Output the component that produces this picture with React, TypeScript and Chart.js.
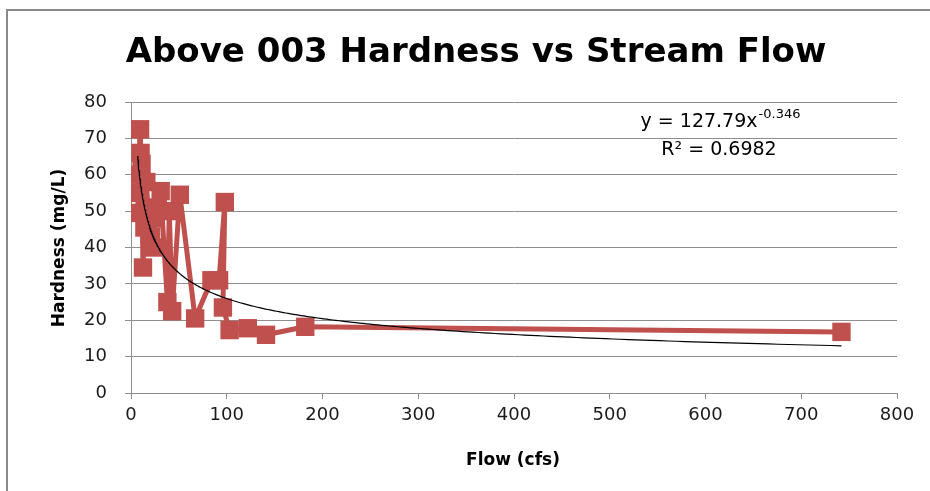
import React, { useEffect, useRef } from 'react';
import { Chart, registerables } from 'chart.js';

Chart.register(...registerables);

const TITLE = 'Above 003 Hardness vs Stream Flow';
const X_TITLE = 'Flow (cfs)';
const Y_TITLE = 'Hardness (mg/L)';

// Observations (flow in cfs, hardness in mg/L), in plotted order
const flow = [7, 7.5, 8, 9.5, 10, 11, 12.5, 14, 16, 18, 21, 23, 25, 28, 31, 38, 40, 43, 51, 67, 84, 92, 98, 96, 103, 122, 141, 182, 742];
const hardness = [49.5, 55, 60, 72.5, 66, 63, 34.5, 45.5, 58, 50, 43, 40, 48, 51, 55.5, 25, 50, 22.5, 54.5, 20.5, 31, 31, 52.5, 23.5, 17.3, 17.8, 16, 18.2, 16.8];

// Power trend line shown on the chart: y = a * x^b
const TREND_A = 127.79;
const TREND_B = -0.346;
const TREND_EQ_MAIN = 'y = 127.79x';
const TREND_EQ_EXP = '-0.346';
const TREND_R2 = 'R\u00B2 = 0.6982';

const X_MIN = 0;
const X_MAX = 800;
const X_STEP = 100;
const Y_MIN = 0;
const Y_MAX = 80;
const Y_STEP = 10;

const RED = '#C0504D';
const GRID = '#8e8e8e';
const FONT = "'DejaVu Sans', sans-serif";

export default function App() {
  const ref = useRef<HTMLCanvasElement>(null);

  useEffect(() => {
    const canvas = ref.current;
    if (!canvas) return;

    const points = flow.map((x, i) => ({ x, y: hardness[i] }));
    const xLo = Math.min(...flow);
    const xHi = Math.max(...flow);
    const trend: { x: number; y: number }[] = [];
    const n = 300;
    for (let i = 0; i <= n; i++) {
      const x = xLo * Math.pow(xHi / xLo, i / n);
      trend.push({ x, y: TREND_A * Math.pow(x, TREND_B) });
    }

    const decor = {
      id: 'decor',
      beforeDraw(chart: any) {
        const ctx = chart.ctx;
        ctx.save();
        ctx.fillStyle = '#ffffff';
        ctx.fillRect(0, 0, chart.width, chart.height);
        ctx.strokeStyle = '#8a8a8a';
        ctx.lineWidth = 2;
        ctx.beginPath();
        ctx.moveTo(7, chart.height);
        ctx.lineTo(7, 10);
        ctx.lineTo(chart.width, 10);
        ctx.stroke();
        ctx.restore();
      },
      afterDraw(chart: any) {
        const ctx = chart.ctx;
        ctx.save();
        ctx.fillStyle = '#000000';
        // title
        ctx.font = `bold 34px ${FONT}`;
        ctx.textAlign = 'center';
        ctx.textBaseline = 'alphabetic';
        ctx.fillText(TITLE, 476, 62);
        // axis titles
        ctx.font = `bold 17px ${FONT}`;
        ctx.textBaseline = 'middle';
        ctx.fillText(X_TITLE, 513, 461);
        ctx.translate(60, 248);
        ctx.rotate(-Math.PI / 2);
        ctx.fillText(Y_TITLE, 0, 0);
        ctx.restore();

        // trend equation
        ctx.save();
        ctx.fillStyle = '#000000';
        ctx.textBaseline = 'alphabetic';
        ctx.textAlign = 'left';
        const mainFont = `19px ${FONT}`;
        const supFont = `13px ${FONT}`;
        ctx.font = mainFont;
        const w1 = ctx.measureText(TREND_EQ_MAIN).width;
        ctx.font = supFont;
        const w2 = ctx.measureText(TREND_EQ_EXP).width;
        const startX = 720 - (w1 + w2) / 2;
        ctx.font = mainFont;
        ctx.fillText(TREND_EQ_MAIN, startX, 127);
        ctx.font = supFont;
        ctx.fillText(TREND_EQ_EXP, startX + w1 + 1, 118);
        ctx.font = mainFont;
        ctx.textAlign = 'center';
        ctx.fillText(TREND_R2, 719, 155);
        ctx.restore();
      },
    };

    const chart = new Chart(canvas, {
      type: 'scatter',
      data: {
        datasets: [
          {
            label: 'Power trend',
            data: trend,
            showLine: true,
            borderColor: '#000000',
            borderWidth: 1.2,
            pointRadius: 0,
            order: 0,
          },
          {
            label: 'Hardness',
            data: points,
            showLine: true,
            borderColor: RED,
            borderWidth: 5,
            borderJoinStyle: 'round',
            borderCapStyle: 'round',
            backgroundColor: RED,
            pointStyle: 'rect',
            pointRadius: 13,
            pointBorderWidth: 0,
            order: 1,
          },
        ],
      },
      options: {
        animation: false,
        responsive: false,
        devicePixelRatio: 1,
        layout: { padding: { left: 0, top: 102, right: 33, bottom: 0 } },
        plugins: {
          legend: { display: false },
          tooltip: { enabled: false },
          title: { display: false },
        },
        scales: {
          x: {
            type: 'linear',
            min: X_MIN,
            max: X_MAX,
            ticks: {
              stepSize: X_STEP,
              color: '#1a1a1a',
              font: { family: FONT, size: 18 },
              padding: 6,
              maxRotation: 0,
            },
            grid: {
              drawOnChartArea: false,
              drawTicks: true,
              tickLength: 6,
              color: GRID,
            },
            border: { display: true, color: GRID, width: 1 },
            afterFit(scale: any) {
              scale.height = 98;
            },
          },
          y: {
            type: 'linear',
            min: Y_MIN,
            max: Y_MAX,
            ticks: {
              stepSize: Y_STEP,
              color: '#1a1a1a',
              font: { family: FONT, size: 18 },
              padding: 18,
            },
            grid: {
              drawOnChartArea: true,
              drawTicks: true,
              tickLength: 6,
              color: GRID,
            },
            border: { display: true, color: GRID, width: 1 },
            afterFit(scale: any) {
              scale.width = 131;
            },
          },
        },
      },
      plugins: [decor],
    });

    return () => chart.destroy();
  }, []);

  return (
    <div style={{ position: 'fixed', left: 0, top: 0, width: 930, height: 491, background: '#fff' }}>
      <canvas ref={ref} width={930} height={491} style={{ display: 'block' }} />
    </div>
  );
}
